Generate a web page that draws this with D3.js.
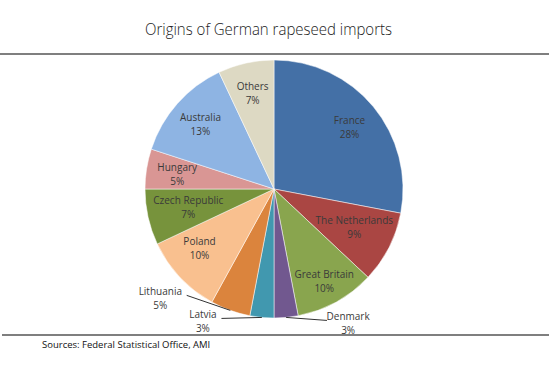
<!DOCTYPE html>
<html>
<head>
<meta charset="utf-8">
<script src="https://cdn.jsdelivr.net/npm/d3@7"></script>
<style>
  body { margin: 0; background: #fff; }
  text { font-family: "Open Sans", sans-serif; }
</style>
</head>
<body>
<div id="chart"></div>
<script>
// data (clockwise from 12 o'clock)
var countries = ["France", "The Netherlands", "Great Britain", "Denmark", "Latvia",
                 "Lithuania", "Poland", "Czech Republic", "Hungary", "Australia", "Others"];
var shares = [28, 9, 10, 3, 3, 5, 10, 7, 5, 13, 7];
var colors = ["#4470a6", "#aa4643", "#89a54e", "#71588f", "#4198af",
              "#db843d", "#f9c08f", "#77933c", "#d99694", "#8eb4e3", "#ddd9c3"];

// labels drawn outside with a leader line: offset of label from slice edge
var outside = {
  "Lithuania": {dx: -70, dy: -12, side: -1},
  "Latvia": {dx: -59, dy: 4, side: -1},
  "Denmark": {dx: 62, dy: 6, side: 1}
};
// small nudges so long inside labels stay within the pie
var nudge = {
  "The Netherlands": [-7, -7],
  "Czech Republic": [10, -3],
  "Poland": [-3, -8],
  "Great Britain": [3, 6]
};

var w = 549, h = 375;
var cx = 274, cy = 189, r = 129;

var svg = d3.select("#chart").append("svg")
    .attr("width", w)
    .attr("height", h);

svg.append("rect").attr("width", w).attr("height", h).attr("fill", "#fff");

// title
svg.append("text")
    .attr("x", 145).attr("y", 35)
    .attr("font-size", 17)
    .attr("font-weight", 300)
    .attr("textLength", 247)
    .attr("lengthAdjust", "spacingAndGlyphs")
    .attr("fill", "#222")
    .text("Origins of German rapeseed imports");

svg.append("line").attr("x1", 0).attr("x2", w).attr("y1", 54).attr("y2", 54)
    .attr("stroke", "#555").attr("stroke-width", 1.3);
svg.append("line").attr("x1", 2).attr("x2", w).attr("y1", 335).attr("y2", 335)
    .attr("stroke", "#555").attr("stroke-width", 1.3);

svg.append("text")
    .attr("x", 42).attr("y", 348)
    .attr("font-size", 9.5)
    .attr("fill", "#111")
    .text("Sources: Federal Statistical Office, AMI");

var data = countries.map(function(c, i) {
  return {name: c, value: shares[i], color: colors[i]};
});

var pie = d3.pie().sort(null).value(function(d) { return d.value; });
var arc = d3.arc().innerRadius(0).outerRadius(r);
var labelArc = d3.arc().innerRadius(r * 0.76).outerRadius(r * 0.76);

var g = svg.append("g").attr("transform", "translate(" + cx + "," + cy + ")");
var arcs = pie(data);

g.selectAll("path")
  .data(arcs)
  .enter()
  .append("path")
  .attr("d", arc)
  .attr("fill", function(d) { return d.data.color; })
  .attr("stroke", "#fff")
  .attr("stroke-width", 0.5);

arcs.forEach(function(d) {
  var o = outside[d.data.name];
  var pos;
  if (o) {
    var mid = (d.startAngle + d.endAngle) / 2;
    var ex = Math.sin(mid) * r, ey = -Math.cos(mid) * r;
    pos = [ex + o.dx, ey + o.dy];
    var half = d.data.name.length * 2.6 + 3;
    g.append("line")
      .attr("x1", ex).attr("y1", ey)
      .attr("x2", pos[0] - o.side * half).attr("y2", pos[1] - 3)
      .attr("stroke", "#333").attr("stroke-width", 1);
  } else {
    pos = labelArc.centroid(d);
    var n = nudge[d.data.name];
    if (n) pos = [pos[0] + n[0], pos[1] + n[1]];
  }
  var t = g.append("text")
    .attr("text-anchor", "middle")
    .attr("font-size", 10)
    .attr("fill", "#3a3a3a");
  t.append("tspan").attr("x", pos[0]).attr("y", pos[1] - 3).text(d.data.name);
  t.append("tspan").attr("x", pos[0]).attr("y", pos[1] + 11).text(d.data.value + "%");
});
</script>
</body>
</html>
